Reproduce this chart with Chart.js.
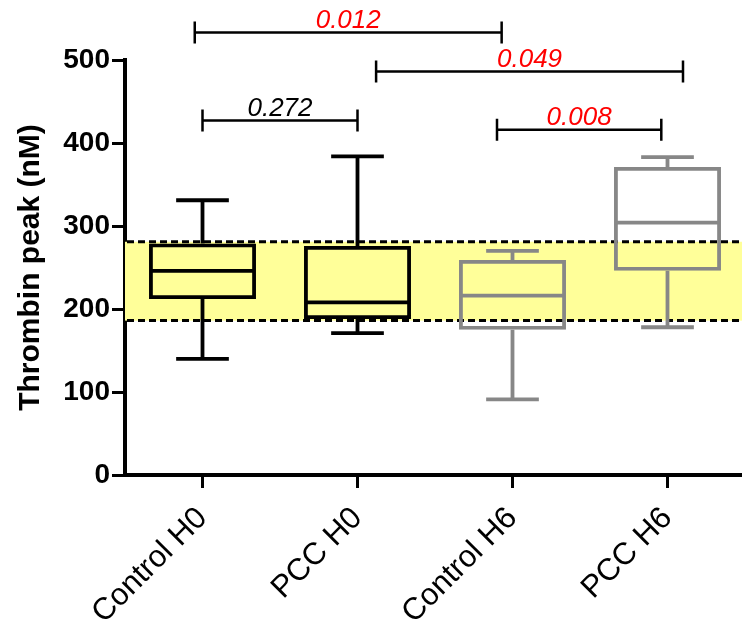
<!DOCTYPE html>
<html>
<head>
<meta charset="utf-8">
<script src="https://cdn.jsdelivr.net/npm/chart.js@4.4.0/dist/chart.umd.min.js"></script>
<style>
  html, body { margin: 0; padding: 0; background: #fff; overflow: hidden; }
  #wrap { width: 742px; height: 624px; overflow: hidden; }
</style>
</head>
<body>
<div id="wrap"><canvas id="chart-thrombin" width="748" height="624"></canvas></div>
<script>
// thrombin peak – box plots per group
const categories  = ["Control H0", "PCC H0", "Control H6", "PCC H6"];
const whiskerLow  = [140, 171, 91, 178];
const quartile1   = [212, 188, 175, 246];
const medians     = [246, 208, 216, 304];
const quartile3   = [279, 276, 259, 371];
const whiskerHigh = [331, 384, 270, 383];

// reference range (yellow band), nM
const refRange = [186, 281];

// significance brackets: ends in category units, height in nM
const pLabels     = ["0.012", "0.049", "0.272", "0.008"];
const pSignif     = [true, true, false, true];
const bracketFrom = [-0.05, 1.12, 0, 1.9];
const bracketTo   = [1.93, 3.1, 1, 2.96];
const bracketAt   = [533, 486, 427, 416];

const yTicks = [0, 100, 200, 300, 400, 500];

const FONT = "'Liberation Sans', Arial, sans-serif";
const boxColors = ["#000000", "#000000", "#878787", "#878787"];

const boxPlotExtras = {
  id: "boxPlotExtras",
  beforeDatasetsDraw(chart) {
    const { ctx, chartArea: a, scales: { y } } = chart;
    const top = y.getPixelForValue(refRange[1]);
    const bot = y.getPixelForValue(refRange[0]);
    ctx.save();
    ctx.fillStyle = "#ffff99";
    ctx.fillRect(a.left, top, a.right - a.left, bot - top);
    ctx.strokeStyle = "#000";
    ctx.lineWidth = 3;
    ctx.setLineDash([7, 4]);
    [top, bot].forEach(py => {
      ctx.beginPath();
      ctx.moveTo(a.left + 2, py);
      ctx.lineTo(a.right, py);
      ctx.stroke();
    });
    ctx.restore();
  },
  afterDatasetsDraw(chart) {
    const { ctx, scales: { x, y } } = chart;
    const bars = chart.getDatasetMeta(0).data;
    const step = x.getPixelForValue(1) - x.getPixelForValue(0);
    const capHalf = step * 0.17;
    ctx.save();
    ctx.lineWidth = 3.8;
    categories.forEach((c, i) => {
      const cx = x.getPixelForValue(i);
      const half = bars[i].width / 2 - 1.9;
      ctx.strokeStyle = boxColors[i];
      ctx.beginPath();
      // whiskers
      ctx.moveTo(cx, y.getPixelForValue(quartile3[i]));
      ctx.lineTo(cx, y.getPixelForValue(whiskerHigh[i]));
      ctx.moveTo(cx, y.getPixelForValue(quartile1[i]));
      ctx.lineTo(cx, y.getPixelForValue(whiskerLow[i]));
      // caps
      ctx.moveTo(cx - capHalf, y.getPixelForValue(whiskerHigh[i]));
      ctx.lineTo(cx + capHalf, y.getPixelForValue(whiskerHigh[i]));
      ctx.moveTo(cx - capHalf, y.getPixelForValue(whiskerLow[i]));
      ctx.lineTo(cx + capHalf, y.getPixelForValue(whiskerLow[i]));
      // median
      ctx.moveTo(cx - half, y.getPixelForValue(medians[i]));
      ctx.lineTo(cx + half, y.getPixelForValue(medians[i]));
      ctx.stroke();
    });
    ctx.restore();
  },
  afterDraw(chart) {
    const { ctx, scales: { x, y } } = chart;
    ctx.save();
    ctx.lineWidth = 2.5;
    ctx.strokeStyle = "#000";
    ctx.font = "italic 26px " + FONT;
    ctx.textAlign = "center";
    ctx.textBaseline = "alphabetic";
    pLabels.forEach((p, i) => {
      const x1 = x.getPixelForValue(bracketFrom[i]);
      const x2 = x.getPixelForValue(bracketTo[i]);
      const py = y.getPixelForValue(bracketAt[i]);
      ctx.beginPath();
      ctx.moveTo(x1, py); ctx.lineTo(x2, py);
      ctx.moveTo(x1, py - 11); ctx.lineTo(x1, py + 11);
      ctx.moveTo(x2, py - 11); ctx.lineTo(x2, py + 11);
      ctx.stroke();
      ctx.fillStyle = pSignif[i] ? "#ff0000" : "#000000";
      ctx.fillText(p, (x1 + x2) / 2, py - 5);
    });
    ctx.restore();
  }
};

const ctx = document.getElementById("chart-thrombin").getContext("2d");

new Chart(ctx, {
  type: "bar",
  data: {
    labels: categories,
    datasets: [{
      data: quartile1.map((q, i) => [q, quartile3[i]]),
      backgroundColor: "rgba(0,0,0,0)",
      borderColor: boxColors,
      borderWidth: 3.8,
      borderSkipped: false,
      categoryPercentage: 1,
      barPercentage: 0.69
    }]
  },
  options: {
    responsive: false,
    animation: false,
    layout: { padding: { top: 60, right: 3, left: 0, bottom: 0 } },
    plugins: {
      legend: { display: false },
      tooltip: { enabled: false }
    },
    scales: {
      x: {
        offset: true,
        grid: {
          offset: false,
          drawOnChartArea: false,
          tickLength: 13,
          tickWidth: 3,
          tickColor: "#000"
        },
        border: { color: "#000", width: 4 },
        ticks: {
          minRotation: 45,
          maxRotation: 45,
          autoSkip: false,
          color: "#000",
          padding: 12,
          font: { family: FONT, size: 31 }
        },
        afterFit: s => { s.height = 149; }
      },
      y: {
        min: 0,
        max: 500,
        afterBuildTicks: s => { s.ticks = yTicks.map(v => ({ value: v })); },
        grid: {
          drawOnChartArea: false,
          tickLength: 13,
          tickWidth: 3,
          tickColor: "#000"
        },
        border: { color: "#000", width: 4 },
        ticks: {
          color: "#000",
          padding: 2,
          font: { family: FONT, size: 28, weight: "bold" }
        },
        title: {
          display: true,
          text: "Thrombin peak (nM)",
          color: "#000",
          font: { family: FONT, size: 30, weight: "bold" },
          padding: { top: 13, bottom: 0 }
        },
        afterFit: s => { s.width = 125; }
      }
    }
  },
  plugins: [boxPlotExtras]
});
</script>
</body>
</html>
